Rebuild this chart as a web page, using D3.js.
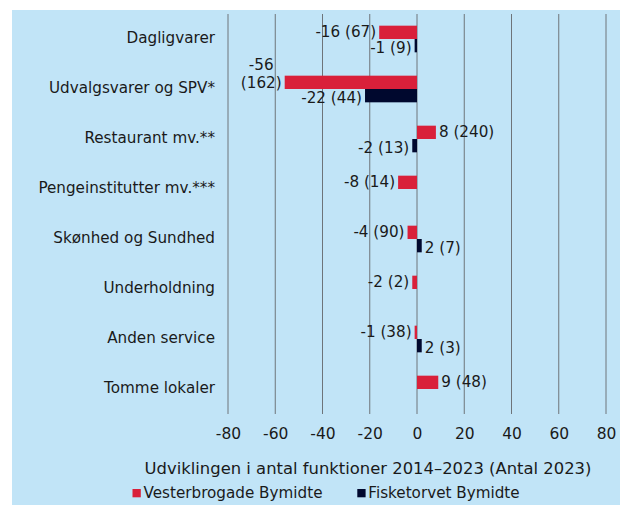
<!DOCTYPE html>
<html><head><meta charset="utf-8">
<script src="https://cdn.jsdelivr.net/npm/d3@7"></script>
<style>html,body{margin:0;padding:0;background:#fff;}svg{display:block;}</style>
</head><body>
<svg id="chart" width="620" height="505"></svg>
<script>
const categories = ["Dagligvarer","Udvalgsvarer og SPV*","Restaurant mv.**","Pengeinstitutter mv.***","Skønhed og Sundhed","Underholdning","Anden service","Tomme lokaler"];
const vesterChange = [-16,-56,8,-8,-4,-2,-1,9];
const vesterCount = [67,162,240,14,90,2,38,48];
const fiskeChange = [-1,-22,-2,null,2,null,2,null];
const fiskeCount = [9,44,13,null,7,null,3,null];
const seriesNames = ["Vesterbrogade Bymidte","Fisketorvet Bymidte"];
const tickValues = [-80,-60,-40,-20,0,20,40,60,80];
const axisTitle = "Udviklingen i antal funktioner 2014–2023 (Antal 2023)";

const colors = ["#d9203a","#00082e"];
const FONT = "'DejaVu Sans', sans-serif";
const textColor = "#1a1a1a";

const svg = d3.select("#chart");
svg.append("rect").attr("x",12).attr("y",10).attr("width",608).attr("height",495).attr("fill","#c1e4f7");

const x = d3.scaleLinear().domain([-80,80]).range([228,606]);
const y = d3.scaleBand().domain(categories).range([14,414]).paddingInner(0.467).paddingOuter(0.2335);
const ySub = d3.scaleBand().domain([0,1]).range([0,y.bandwidth()]);

// gridlines
svg.append("g").selectAll("line").data(tickValues).join("line")
  .attr("x1",d=>x(d)).attr("x2",d=>x(d)).attr("y1",14).attr("y2",414)
  .attr("stroke","#6e747a").attr("stroke-width",1);

// tick labels via axis
const axis = svg.append("g").attr("transform","translate(0,414)")
  .call(d3.axisBottom(x).tickValues(tickValues).tickSize(0).tickPadding(20).tickFormat(d=>String(d)));
axis.select(".domain").remove();
axis.selectAll("text").attr("font-family",FONT).attr("font-size",15.5).attr("fill",textColor)
  .attr("dy",null).attr("dominant-baseline","central").attr("y",20);

// category labels
svg.append("g").selectAll("text").data(categories).join("text")
  .attr("x",215).attr("y",d=>y(d)+y.bandwidth()/2-1)
  .attr("text-anchor","end").attr("dominant-baseline","central")
  .attr("font-family",FONT).attr("font-size",15.2).attr("fill",textColor).text(d=>d);

const rows = [];
categories.forEach((c,i)=>{
  rows.push({cat:c,s:0,v:vesterChange[i],n:vesterCount[i]});
  if (fiskeChange[i]!==null) rows.push({cat:c,s:1,v:fiskeChange[i],n:fiskeCount[i]});
});

svg.append("g").selectAll("rect").data(rows).join("rect")
  .attr("x",d=>Math.min(x(0),x(d.v)))
  .attr("width",d=>Math.abs(x(d.v)-x(0)))
  .attr("y",d=>y(d.cat)+ySub(d.s))
  .attr("height",ySub.bandwidth())
  .attr("fill",d=>colors[d.s]);

const lab = svg.append("g").attr("font-family",FONT).attr("font-size",15.2).attr("fill",textColor);
rows.forEach(d=>{
  const cy = y(d.cat)+ySub(d.s)+ySub.bandwidth()/2 + (d.s===1?2:0);
  const str = d.v + " (" + d.n + ")";
  if (d.v>=0) {
    lab.append("text").attr("x",x(d.v)+3).attr("y",cy).attr("dominant-baseline","central").text(str);
  } else {
    const t = lab.append("text").attr("x",x(d.v)-3).attr("y",cy).attr("dominant-baseline","central").attr("text-anchor","end").text(str);
    const w = t.node().getComputedTextLength();
    if (x(d.v)-3-w < x(-80)) {
      // wrap into two lines
      const line2 = "(" + d.n + ")";
      t.text(line2).attr("y",cy+1);
      const w2 = t.node().getComputedTextLength();
      lab.append("text").attr("x",x(d.v)-3-w2/2).attr("y",cy-17).attr("dominant-baseline","central")
        .attr("text-anchor","middle").text(String(d.v));
    }
  }
});

// axis title
svg.append("text").attr("x",368).attr("y",468).attr("text-anchor","middle").attr("dominant-baseline","central")
  .attr("font-family",FONT).attr("font-size",16.4).attr("fill",textColor).text(axisTitle);

// legend
const legX = [132.5,357.3];
seriesNames.forEach((n,i)=>{
  svg.append("rect").attr("x",legX[i]).attr("y",489).attr("width",8.3).attr("height",8.3).attr("fill",colors[i]);
  svg.append("text").attr("x",legX[i]+11).attr("y",493.3).attr("dominant-baseline","central")
    .attr("font-family",FONT).attr("font-size",15.2).attr("fill",textColor).text(n);
});
</script>
</body></html>
